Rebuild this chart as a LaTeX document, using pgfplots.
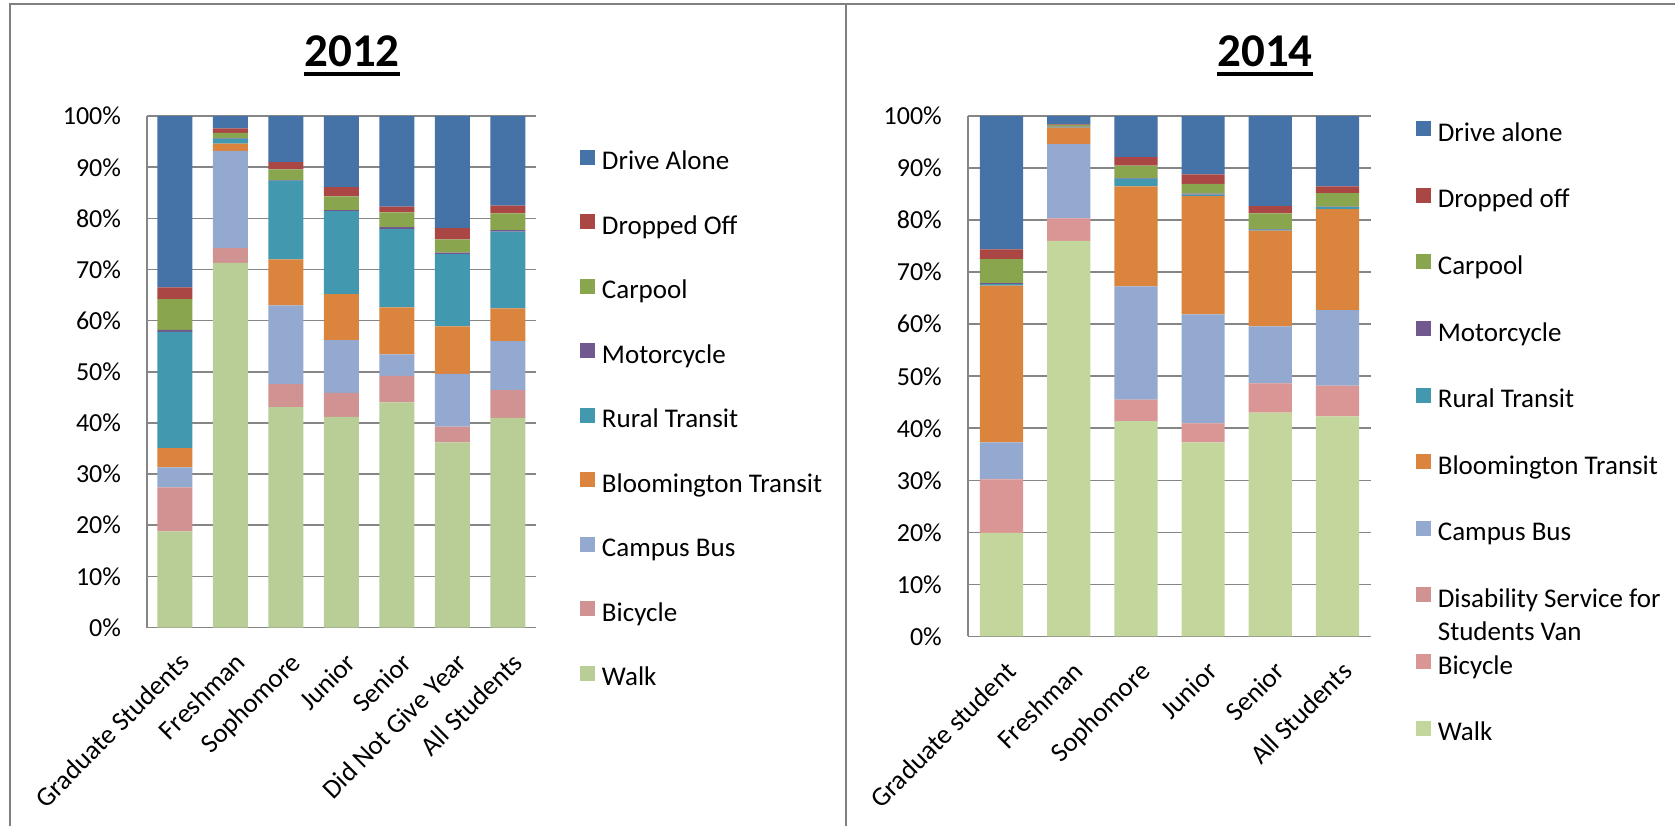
\documentclass[border=0pt]{standalone}
\usepackage{fontspec}
\setmainfont{Carlito}
\usepackage{pgfplots}
\usepackage{pgfplotstable}
\pgfplotsset{compat=1.18}
\usetikzlibrary{calc}

% excel 2007 palette
\definecolor{cDrive}{HTML}{4572A7}
\definecolor{cDrop}{HTML}{AA4643}
\definecolor{cCarpool}{HTML}{89A54E}
\definecolor{cMoto}{HTML}{71588F}
\definecolor{cRural}{HTML}{4198AF}
\definecolor{cBT}{HTML}{DB843D}
\definecolor{cBus}{HTML}{93A9CF}
\definecolor{cBike}{HTML}{D19392}
\definecolor{cWalk}{HTML}{B9CD96}
\definecolor{cBikeB}{HTML}{D99694}
\definecolor{cVan}{HTML}{D19392}
\definecolor{cWalkB}{HTML}{C3D69B}
\definecolor{gridgray}{HTML}{868686}
\definecolor{framegray}{HTML}{808080}

% 2012: walk bike bus bt rural moto carpool drop drive
\pgfplotstableread{
x walk bike bus bt rural moto carpool drop drive
0 18.8 8.6 3.9 3.8 22.7 0.4 6.0 2.3 33.5
1 71.3 2.9 19.0 1.4 1.0 0.1 1.0 0.9 2.4
2 43.1 4.5 15.4 9.0 15.4 0.1 2.1 1.4 9.0
3 41.2 4.7 10.3 9.0 16.2 0.2 2.7 1.8 13.9
4 44.0 5.2 4.2 9.2 15.3 0.4 2.9 1.1 17.7
5 36.2 3.1 10.3 9.3 14.1 0.3 2.6 2.2 21.9
6 41.0 5.4 9.6 6.4 15.0 0.3 3.3 1.5 17.5
}\dataA

% 2014
\pgfplotstableread{
x walk bike van bus bt rural moto carpool drop drive
0 19.9 10.3 0.1 7.0 30.1 0.3 0.2 4.6 1.9 25.6
1 76.0 4.3 0.1 14.2 3.2 0.1 0.1 0.3 0.1 1.6
2 41.4 4.0 0.1 21.8 19.2 1.5 0.1 2.4 1.6 7.9
3 37.3 3.6 0.1 20.9 22.7 0.3 0.2 1.9 1.8 11.2
4 43.0 5.6 0.1 10.9 18.4 0.2 0.1 3.0 1.4 17.3
5 42.3 5.8 0.1 14.5 19.4 0.4 0.1 2.6 1.3 13.5
}\dataB

\pgfplotsset{
  chart/.style={
    scale only axis,
    ybar stacked,
    ymin=0, ymax=100,
    ytick={0,10,...,100},
    yticklabels={0\%,10\%,20\%,30\%,40\%,50\%,60\%,70\%,80\%,90\%,100\%},
    ymajorgrids,
    grid style={line width=0.8pt, gridgray},
    axis x line*=bottom, axis y line*=left,
    axis line style={line width=0.8pt, gridgray},
    major tick length=0pt,
    tick label style={font=\fontsize{13}{15.6}\selectfont, black},
    xticklabel style={font=\fontsize{13.5}{16.2}\selectfont},
    yticklabel style={inner sep=0pt},
    yticklabel shift=12.85pt,
    xticklabel style={rotate=45, anchor=north east, inner sep=0pt, xshift=2pt},
    xticklabel shift=13pt,
    reverse legend,
    legend cell align=left,
    legend image code/.code={\fill[##1] (0pt,-0.5pt) rectangle (7.5pt,7pt);},
    legend style={draw=none, fill=none, inner sep=0pt, anchor=north west,
      font=\fontsize{13.5}{16.2}\selectfont,
      nodes={inner sep=0pt, text height=9pt, text depth=3pt},
      /tikz/every odd column/.append style={column sep=3.3pt}},
  },
  seg/.style={fill=#1, draw=none},
}

\begin{document}
\begin{tikzpicture}
\useasboundingbox (0,0) rectangle (837.5pt,-413pt);

% frame
\draw[framegray, line width=1pt] (5pt,-413pt) -- (5pt,-2pt) -- (837.5pt,-2pt);
\draw[framegray, line width=1pt] (423pt,-2pt) -- (423pt,-413pt);

% titles
\node[anchor=base, inner sep=0pt, font=\fontsize{23.5}{28}\bfseries\selectfont] (t1) at (176pt,-33.35pt) {2012};
\fill ($(t1.base west)+(0,-2.5pt)$) rectangle ($(t1.base east)+(0,-4.5pt)$);
\node[anchor=base, inner sep=0pt, font=\fontsize{23.5}{28}\bfseries\selectfont] (t2) at (632.5pt,-33.35pt) {2014};
\fill ($(t2.base west)+(0,-2.5pt)$) rectangle ($(t2.base east)+(0,-4.5pt)$);

\begin{axis}[chart,
  at={(73.55pt,-313.75pt)}, anchor=south west,
  width=194.3pt, height=255.7pt,
  bar width=17.5pt,
  xmin=-0.5, xmax=6.5,
  xtick={0,...,6},
  xticklabels={Graduate Students,Freshman,Sophomore,Junior,Senior,Did Not Give Year,All Students},
  legend style={at={(1.114,0.935)}, row sep=19.25pt},
]
\addplot[seg=cWalk] table[x=x,y=walk] {\dataA}; \addlegendentry{Walk}
\addplot[seg=cBike] table[x=x,y=bike] {\dataA}; \addlegendentry{Bicycle}
\addplot[seg=cBus] table[x=x,y=bus] {\dataA}; \addlegendentry{Campus Bus}
\addplot[seg=cBT] table[x=x,y=bt] {\dataA}; \addlegendentry{Bloomington Transit}
\addplot[seg=cRural] table[x=x,y=rural] {\dataA}; \addlegendentry{Rural Transit}
\addplot[seg=cMoto] table[x=x,y=moto] {\dataA}; \addlegendentry{Motorcycle}
\addplot[seg=cCarpool] table[x=x,y=carpool] {\dataA}; \addlegendentry{Carpool}
\addplot[seg=cDrop] table[x=x,y=drop] {\dataA}; \addlegendentry{Dropped Off}
\addplot[seg=cDrive] table[x=x,y=drive] {\dataA}; \addlegendentry{Drive Alone}
\end{axis}

\begin{axis}[chart,
  at={(483.95pt,-318.2pt)}, anchor=south west,
  width=201.6pt, height=260.15pt,
  bar width=21.6pt,
  xmin=-0.5, xmax=5.5,
  xtick={0,...,5},
  xticklabels={Graduate student,Freshman,Sophomore,Junior,Senior,All Students},
  legend style={at={(1.111,0.991)}, row sep=20.3pt},
]
\addplot[seg=cWalkB] table[x=x,y=walk] {\dataB}; \addlegendentry{Walk}
\addplot[seg=cBikeB] table[x=x,y=bike] {\dataB}; \addlegendentry{Bicycle}
\addplot[seg=cVan] table[x=x,y=van] {\dataB};
\addlegendentry{\smash{\begin{tabular}[t]{@{}l@{}}Disability Service for\\[0.5pt]Students Van\end{tabular}}}
\addplot[seg=cBus] table[x=x,y=bus] {\dataB}; \addlegendentry{Campus Bus}
\addplot[seg=cBT] table[x=x,y=bt] {\dataB}; \addlegendentry{Bloomington Transit}
\addplot[seg=cRural] table[x=x,y=rural] {\dataB}; \addlegendentry{Rural Transit}
\addplot[seg=cMoto] table[x=x,y=moto] {\dataB}; \addlegendentry{Motorcycle}
\addplot[seg=cCarpool] table[x=x,y=carpool] {\dataB}; \addlegendentry{Carpool}
\addplot[seg=cDrop] table[x=x,y=drop] {\dataB}; \addlegendentry{Dropped off}
\addplot[seg=cDrive] table[x=x,y=drive] {\dataB}; \addlegendentry{Drive alone}
\end{axis}
\end{tikzpicture}
\end{document}
